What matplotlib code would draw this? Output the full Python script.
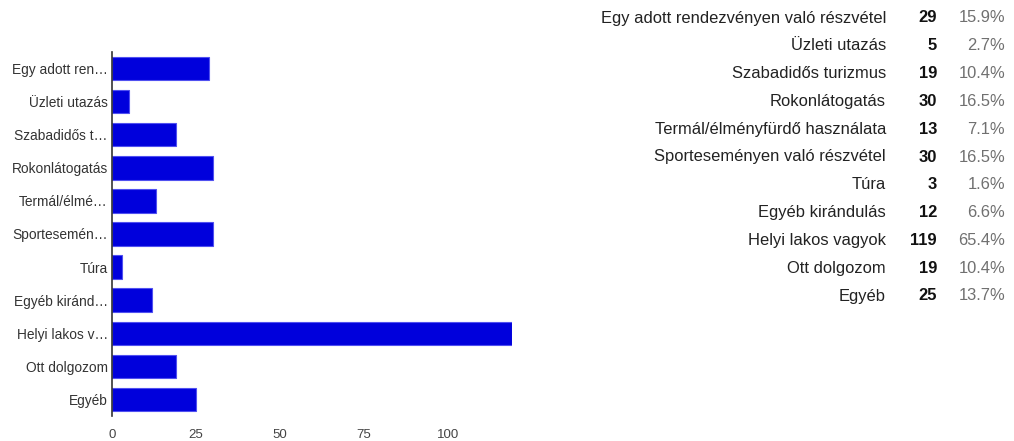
import matplotlib
matplotlib.use("Agg")
import matplotlib.pyplot as plt

categories = ["Egy adott rendezvényen való részvétel", "Üzleti utazás", "Szabadidős turizmus",
              "Rokonlátogatás", "Termál/élményfürdő használata", "Sporteseményen való részvétel",
              "Túra", "Egyéb kirándulás", "Helyi lakos vagyok", "Ott dolgozom", "Egyéb"]
short_labels = ["Egy adott ren…", "Üzleti utazás", "Szabadidős t…", "Rokonlátogatás",
                "Termál/élmé…", "Sportesemén…", "Túra", "Egyéb kiránd…",
                "Helyi lakos v…", "Ott dolgozom", "Egyéb"]
counts = [29, 5, 19, 30, 13, 30, 3, 12, 119, 19, 25]
percents = ["15.9%", "2.7%", "10.4%", "16.5%", "7.1%", "16.5%", "1.6%", "6.6%", "65.4%", "10.4%", "13.7%"]
xticks = [0, 25, 50, 75, 100]

plt.rcParams['font.family'] = ['Liberation Sans', 'DejaVu Sans']

W, H = 1014, 441
fig = plt.figure(figsize=(W / 100, H / 100), dpi=100)
ax = fig.add_axes([112 / W, 1 - 416 / H, 400 / W, 364 / H])

ypos = list(range(len(categories)))
ax.barh(ypos, counts, height=0.71, color="#0000dc", edgecolor="#5050f0", linewidth=0.8)
ax.set_ylim(len(categories) - 0.5, -0.5)
ax.set_xlim(0, 119)
ax.set_yticks(ypos)
ax.set_yticklabels(short_labels, fontsize=9.9, color="#333333")
ax.set_xticks(xticks)
ax.set_xticklabels([str(t) for t in xticks], fontsize=9.5, color="#444444")
ax.tick_params(axis="both", length=0)
ax.tick_params(axis="y", pad=3)
ax.tick_params(axis="x", pad=9)
for s in ["top", "right", "bottom"]:
    ax.spines[s].set_visible(False)
ax.spines["left"].set_color("#333333")
ax.spines["left"].set_linewidth(1.2)

# table on the right
y0, dy = 18, 27.8
for i, (c, n, p) in enumerate(zip(categories, counts, percents)):
    yy = 1 - (y0 + i * dy) / H
    fig.text(886 / W, yy, c, ha="right", va="center", fontsize=11.9, color="#222222")
    fig.text(937 / W, yy, str(n), ha="right", va="center", fontsize=11.9, color="#111111", fontweight="bold")
    fig.text(1005 / W, yy, p, ha="right", va="center", fontsize=11.9, color="#707070")

fig.savefig("out.png", dpi=100)
